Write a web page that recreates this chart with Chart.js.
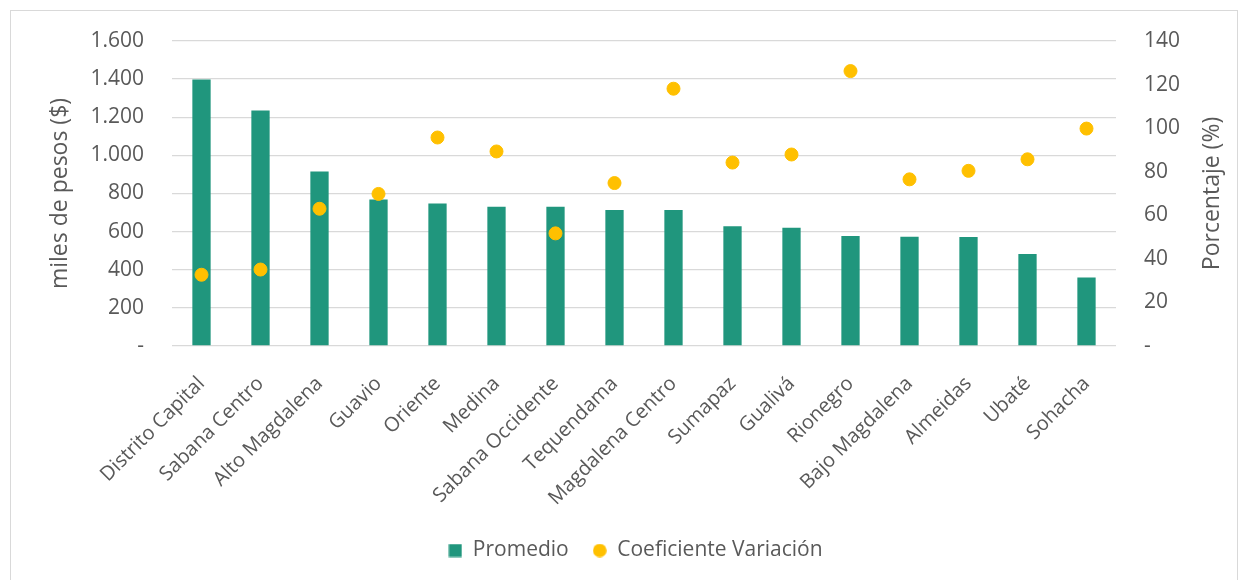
<!DOCTYPE html>
<html>
<head>
<meta charset="utf-8">
<script src="https://cdn.jsdelivr.net/npm/chart.js@4/dist/chart.umd.min.js"></script>
<style>
  html, body { margin: 0; padding: 0; background: #fff; }
  #wrap { width: 1248px; height: 580px; position: relative; }
</style>
</head>
<body>
<div id="wrap"><canvas id="grafico"></canvas></div>
<script>
const provincias = ['Distrito Capital', 'Sabana Centro', 'Alto Magdalena', 'Guavio', 'Oriente', 'Medina',
  'Sabana Occidente', 'Tequendama', 'Magdalena Centro', 'Sumapaz', 'Gualivá', 'Rionegro',
  'Bajo Magdalena', 'Almeidas', 'Ubaté', 'Sohacha'];
const promedio = [1398, 1236, 915, 768, 748, 730, 730, 713, 713, 628, 620, 577, 573, 572, 482, 360];
const coefVariacion = [32.7, 35.1, 63.0, 69.8, 95.7, 89.3, 51.7, 74.8, 118.1, 84.2, 87.9, 126.2, 76.5, 80.4, 85.7, 99.8];

const verde = '#20967d';
const amarillo = '#ffc000';
const gris = '#595959';
const fuente = '"Open Sans", "Liberation Sans", sans-serif';

function miles(v) {
  if (v === 0) return '-';
  return String(v).replace(/\B(?=(\d{3})+(?!\d))/g, '.');
}

// marcas de la leyenda (cuadro y circulo de 14 px)
function marca(tipo, color) {
  const c = document.createElement('canvas');
  c.width = 14; c.height = 14;
  const g = c.getContext('2d');
  g.fillStyle = color;
  if (tipo === 'circulo') {
    g.beginPath(); g.arc(7, 7, 6.8, 0, Math.PI * 2); g.fill();
  } else {
    g.fillRect(0.5, 0.5, 13, 13);
  }
  return c;
}
const marcaBarra = marca('cuadro', verde);
const marcaPunto = marca('circulo', amarillo);

const marco = {
  id: 'marco',
  beforeDraw(chart) {
    const c = chart.ctx;
    c.save();
    c.strokeStyle = '#d9d9d9';
    c.lineWidth = 1;
    c.strokeRect(10.5, 10.5, 1227, 620);
    c.restore();
  },
  afterDraw(chart) {
    // titulo del eje derecho, leido de abajo hacia arriba
    const area = chart.chartArea;
    const c = chart.ctx;
    c.save();
    c.translate(1212, (area.top + area.bottom) / 2);
    c.rotate(-Math.PI / 2);
    c.fillStyle = gris;
    c.font = '23px ' + fuente;
    c.textAlign = 'center';
    c.textBaseline = 'middle';
    c.fillText('Porcentaje (%)', 0, 0);
    c.restore();
  }
};

new Chart(document.getElementById('grafico'), {
  type: 'bar',
  data: {
    labels: provincias,
    datasets: [{
      label: 'Promedio',
      data: promedio,
      backgroundColor: verde,
      yAxisID: 'y',
      barPercentage: 0.31,
      categoryPercentage: 1,
      order: 1
    }, {
      type: 'line',
      label: 'Coeficiente Variación',
      data: coefVariacion,
      yAxisID: 'y1',
      showLine: false,
      pointRadius: 6.5,
      pointHoverRadius: 6.5,
      pointBackgroundColor: amarillo,
      pointBorderColor: amarillo,
      backgroundColor: amarillo,
      borderColor: amarillo,
      order: 0
    }]
  },
  options: {
    responsive: true,
    maintainAspectRatio: false,
    animation: false,
    layout: { padding: { left: 47, right: 24, top: 41, bottom: 9 } },
    plugins: {
      tooltip: { enabled: false },
      legend: {
        position: 'bottom',
        labels: {
          usePointStyle: true,
          boxWidth: 14,
          boxHeight: 14,
          padding: 24,
          color: gris,
          font: { family: fuente, size: 21 },
          sort: (a, b) => a.datasetIndex - b.datasetIndex,
          generateLabels(chart) {
            const items = Chart.defaults.plugins.legend.labels.generateLabels(chart);
            items.forEach((it) => {
              it.pointStyle = it.datasetIndex === 0 ? marcaBarra : marcaPunto;
            });
            return items;
          }
        }
      }
    },
    scales: {
      x: {
        grid: { display: false },
        border: { display: false },
        ticks: {
          color: gris,
          font: { family: fuente, size: 20 },
          minRotation: 45,
          maxRotation: 45,
          padding: 18,
          autoSkip: false
        },
        afterFit(scale) { scale.height = 170; }
      },
      y: {
        position: 'left',
        min: 0,
        max: 1600,
        grid: { color: '#d9d9d9', lineWidth: 1.3, drawTicks: false },
        border: { display: false },
        ticks: {
          stepSize: 200,
          padding: 28,
          color: gris,
          font: { family: fuente, size: 21 },
          callback: (v) => miles(v)
        },
        title: {
          display: true,
          text: 'miles de pesos ($)',
          color: gris,
          padding: 0,
          font: { family: fuente, size: 23 }
        },
        afterFit(scale) { scale.width = 125; }
      },
      y1: {
        position: 'right',
        min: 0,
        max: 140,
        grid: { display: false, drawTicks: false },
        border: { display: false },
        ticks: {
          stepSize: 20,
          padding: 28,
          color: gris,
          font: { family: fuente, size: 21 },
          callback: (v) => (v === 0 ? '-' : v)
        },
        afterFit(scale) { scale.width = 108; }
      }
    }
  },
  plugins: [marco]
});
</script>
</body>
</html>
